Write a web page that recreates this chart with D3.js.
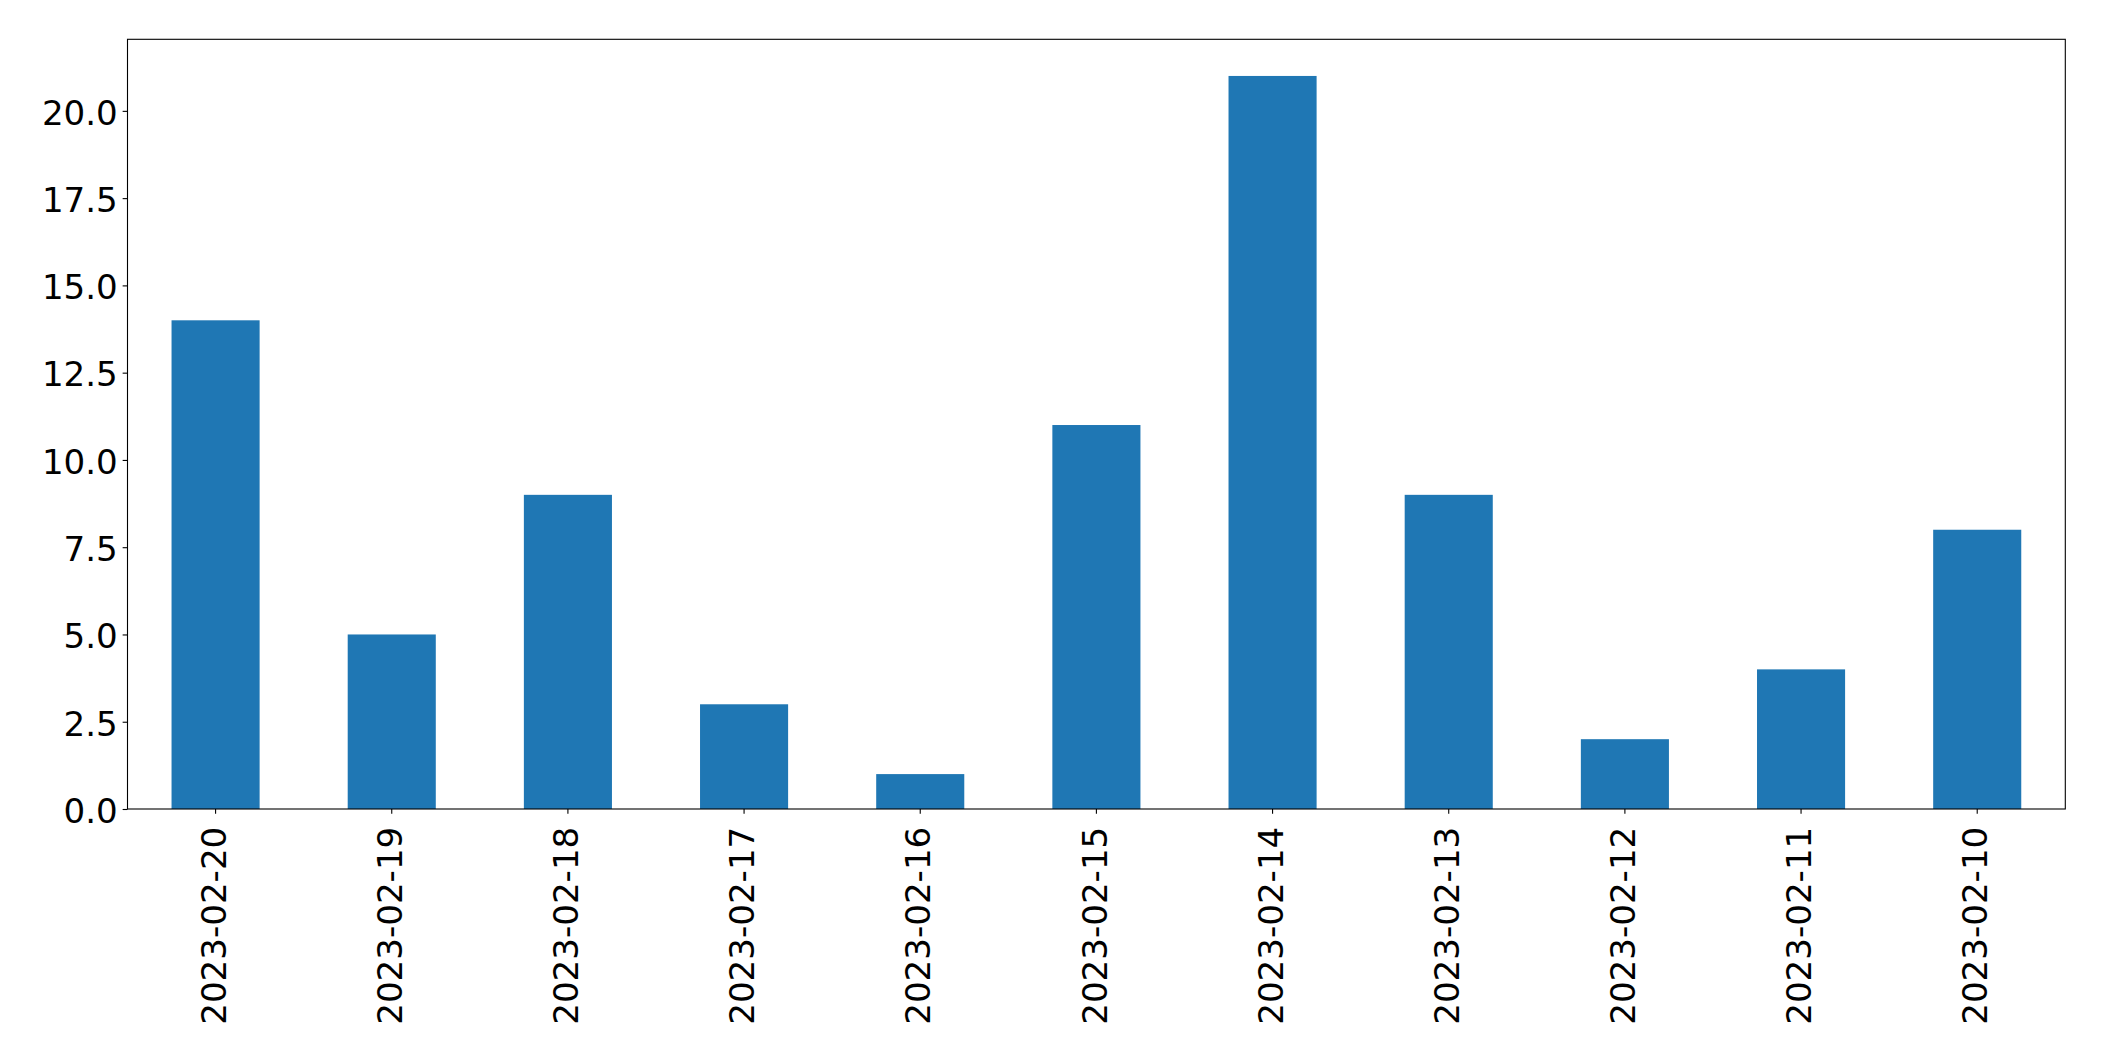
<!DOCTYPE html>
<html>
<head>
<meta charset="utf-8">
<script src="https://cdn.jsdelivr.net/npm/d3@7"></script>
<style>
  html, body { margin: 0; padding: 0; background: #fff; }
  svg { display: block; }
  text { font-family: "DejaVu Sans", sans-serif; fill: #000; }
</style>
</head>
<body>
<svg id="chart" width="2104" height="1061"></svg>
<script>
const categories = ["2023-02-20","2023-02-19","2023-02-18","2023-02-17","2023-02-16","2023-02-15","2023-02-14","2023-02-13","2023-02-12","2023-02-11","2023-02-10"];
const values = [14, 5, 9, 3, 1, 11, 21, 9, 2, 4, 8];
const yTicks = [0, 2.5, 5, 7.5, 10, 12.5, 15, 17.5, 20];

const W = 2104, H = 1061;
const margin = {left: 127.5, top: 39.3, right: W - 2065.3, bottom: H - 809};
const iw = W - margin.left - margin.right;
const ih = H - margin.top - margin.bottom;

const svg = d3.select("#chart");
const g = svg.append("g").attr("transform", `translate(${margin.left},${margin.top})`);

const x = d3.scaleBand().domain(categories).range([0, iw]).paddingInner(0.5).paddingOuter(0.25);
const yMax = d3.max(values) * 1.05;
const y = d3.scaleLinear().domain([0, yMax]).range([ih, 0]);

g.selectAll("rect.bar").data(values).enter().append("rect")
  .attr("class", "bar")
  .attr("x", (d, i) => x(categories[i]))
  .attr("width", x.bandwidth())
  .attr("y", d => y(d))
  .attr("height", d => y(0) - y(d))
  .attr("fill", "#1f77b4");

const tickLen = 4.86, pad = 4.86, fs = 34.1;

const yAxis = g.append("g").call(d3.axisLeft(y).tickValues(yTicks).tickFormat(d3.format(".1f")).tickSize(tickLen).tickPadding(pad));
const xAxis = g.append("g").attr("transform", `translate(0,${ih})`)
  .call(d3.axisBottom(x).tickSize(tickLen).tickPadding(pad));

[yAxis, xAxis].forEach(a => {
  a.select(".domain").remove();
  a.selectAll(".tick line").attr("stroke", "#000").attr("stroke-width", 1.1);
  a.selectAll("text").attr("font-size", fs).attr("font-family", "DejaVu Sans, sans-serif").attr("fill", "#000");
});

yAxis.selectAll("text").attr("dy", "0.39em");

xAxis.selectAll("text")
  .attr("text-anchor", "end")
  .attr("transform", `translate(0,${tickLen + pad}) rotate(-90)`)
  .attr("x", -8)
  .attr("y", 0)
  .attr("dy", "0.30em");

g.append("rect").attr("x", 0).attr("y", 0).attr("width", iw).attr("height", ih)
  .attr("fill", "none").attr("stroke", "#000").attr("stroke-width", 1.1);
</script>
</body>
</html>
